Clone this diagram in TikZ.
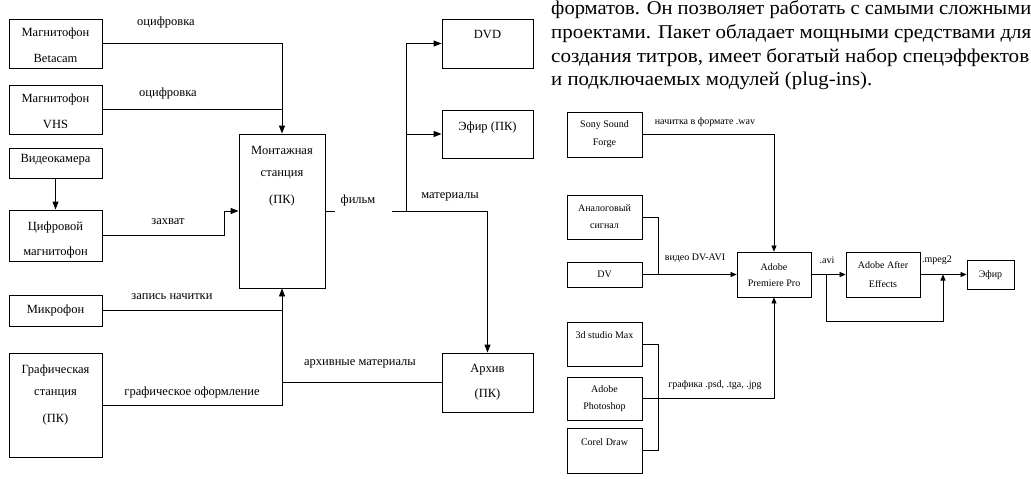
\documentclass[tikz,border=0pt]{standalone}
\usepackage{fontspec}
\setmainfont{Liberation Serif}
\usetikzlibrary{arrows.meta}
\begin{document}
\begin{tikzpicture}[x=1pt,y=-1pt,
  box/.style={draw,line width=0.9pt,inner sep=0pt},
  rbox/.style={draw,line width=0.8pt,inner sep=0pt,minimum width=75pt},
  lt/.style={font=\fontsize{12.5}{14}\selectfont,inner sep=0pt},
  rt/.style={font=\fontsize{10}{12}\selectfont,inner sep=0pt},
  con/.style={line width=0.9pt},
  rcon/.style={line width=0.7pt},
  arr/.style={con,-{Triangle[length=8pt,width=6pt]}},
  rarr/.style={rcon,-{Triangle[length=6pt,width=5pt]}},
  para/.style={font=\fontsize{19.5}{24}\selectfont,inner sep=0pt,anchor=base west},
]
\useasboundingbox[fill=white] (0,0) rectangle (1031,479);

% ---------------- left diagram ----------------
\node[box,minimum width=93pt,minimum height=49pt] (bet) at (55.5,43.5) {};
\node[lt] (betA) at (55.5,33) {Магнитофон};
\node[lt] (betB) at (55.5,58) {Betacam};

\node[box,minimum width=93pt,minimum height=49pt] (vhs) at (55.5,109.5) {};
\node[lt] (vhsA) at (55.5,99) {Магнитофон};
\node[lt] (vhsB) at (55.5,124) {VHS};

\node[box,minimum width=93pt,minimum height=30pt] (cam) at (55.5,163) {};
\node[lt] (camA) at (55.5,160) {Видеокамера};

\node[box,minimum width=93pt,minimum height=51pt] (dig) at (55.5,235.5) {};
\node[lt] (digA) at (55.5,227) {Цифровой};
\node[lt] (digB) at (55.5,252) {магнитофон};

\node[box,minimum width=93pt,minimum height=31pt] (mic) at (55.5,310.5) {};
\node[lt] (micA) at (55.5,310) {Микрофон};

\node[box,minimum width=93pt,minimum height=104pt] (gr) at (55.5,405) {};
\node[lt] (grA) at (55.5,370) {Графическая};
\node[lt] (grB) at (55.5,394) {станция};
\node[lt] (grC) at (55.5,419) {(ПК)};

\node[box,minimum width=86pt,minimum height=154pt] (mont) at (282,211) {};
\node[lt] (montA) at (282,150) {Монтажная};
\node[lt] (montB) at (282,175) {станция};
\node[lt] (montC) at (282,200) {(ПК)};

\node[box,minimum width=91pt,minimum height=49pt] (dvd) at (487.5,43.5) {};
\node[lt] (dvdA) at (487.5,35) {DVD};

\node[box,minimum width=91pt,minimum height=48pt] (air) at (487.5,134) {};
\node[lt] (airA) at (487.5,127) {Эфир (ПК)};

\node[box,minimum width=91pt,minimum height=59pt] (arch) at (487.5,382.5) {};
\node[lt] (archA) at (487.5,370) {Архив};
\node[lt] (archB) at (487.5,394) {(ПК)};

\draw[arr] (bet.east) -| (mont.north);
\draw[con] (vhs.east) -- (vhs.east -| mont.north);
\draw[arr] (cam.south) -- (dig.north);
\coordinate (digK) at (224,235.5);
\draw[arr] (dig.east) -- (digK) |- (mont.west);
\draw[arr] (mic.east) -| (mont.south);
\draw[con] (gr.east) -| (mic.east -| mont.south);
\draw[con] (arch.west) -- (arch.west -| mont.south);

\coordinate (fA) at (335,211);
\coordinate (fB) at (392,211);
\coordinate (fS) at (406,211);
\draw[con] (mont.east) -- (fA);
\draw[arr] (fB) -| (arch.north);
\draw[arr] (fS) |- (dvd.west);
\draw[arr] (fS |- air.west) -- (air.west);

\node[lt] (l1) at (166,22) {оцифровка};
\node[lt] (l2) at (168,93) {оцифровка};
\node[lt] (l3) at (168,222) {захват};
\node[lt] (l4) at (172,297) {запись начитки};
\node[lt] (l5) at (192,392) {графическое оформление};
\node[lt] (l6) at (360,364) {архивные материалы};
\node[lt] (l7) at (358,200) {фильм};
\node[lt] (l8) at (450,197) {материалы};

% ---------------- paragraph ----------------
\node[para] (p1) at (551,15) {\resizebox{480pt}{\height}{форматов. Он позволяет работать с самыми сложными}};
\node[para] (p2) at (551,38.5) {\resizebox{480pt}{\height}{проектами. Пакет обладает мощными средствами для}};
\node[para] (p3) at (551,62) {\resizebox{478pt}{\height}{создания титров, имеет богатый набор спецэффектов}};
\node[para] (p4) at (551,85.5) {\resizebox{321pt}{\height}{и подключаемых модулей (plug-ins).}};

% ---------------- right diagram ----------------
\node[rbox,minimum height=45pt] (sony) at (604.5,134.5) {};
\node[rt] (sonyA) at (604.5,125) {Sony Sound};
\node[rt] (sonyB) at (604.5,143) {Forge};

\node[rbox,minimum height=44pt] (ana) at (604.5,217) {};
\node[rt] (anaA) at (604.5,208) {Аналоговый};
\node[rt] (anaB) at (604.5,226) {сигнал};

\node[rbox,minimum height=25pt] (dv) at (604.5,274.5) {};
\node[rt] (dvA) at (604.5,274) {DV};

\node[rbox,minimum height=44pt] (max) at (604.5,344) {};
\node[rt] (maxA) at (604.5,335) {3d studio Max};

\node[rbox,minimum height=43pt] (ps) at (604.5,398.5) {};
\node[rt] (psA) at (604.5,389) {Adobe};
\node[rt] (psB) at (604.5,407) {Photoshop};

\node[rbox,minimum height=45pt] (corel) at (604.5,450.5) {};
\node[rt] (corelA) at (604.5,442) {Corel Draw};

\node[rbox,minimum width=74pt,minimum height=45pt] (prem) at (774,274.5) {};
\node[rt] (premA) at (774,267) {Adobe};
\node[rt] (premB) at (774,283) {Premiere Pro};

\node[rbox,minimum width=74pt,minimum height=45pt] (ae) at (883,274.5) {};
\node[rt] (aeA) at (883,265) {Adobe After};
\node[rt] (aeB) at (883,284) {Effects};

\node[rbox,minimum width=47pt,minimum height=29pt] (efir) at (990.5,275) {};
\node[rt] (efirA) at (990.5,275) {Эфир};

\draw[rarr] (sony.east) -| (prem.north);
\coordinate (anK) at (658,217);
\draw[rcon] (ana.east) -- (anK) -- (anK |- dv.east);
\draw[rarr] (dv.east) -- (prem.west);
\draw[rarr] (prem.east) -- (ae.west);
\coordinate (avK) at (826,274.5);
\coordinate (avL) at (826,321);
\coordinate (avM) at (943,321);
\draw[rarr] (avK) -- (avL) -- (avM) -- (avM |- ae.east);
\draw[rarr] (ae.east) -- (ae.east -| efir.west);
\coordinate (grK) at (658,344);
\draw[rcon] (max.east) -- (grK) -- (grK |- corel.east) -- (corel.east);
\draw[rarr] (ps.east) -| (prem.south);

\node[rt] (r1) at (705,122) {начитка в формате .wav};
\node[rt] (r2) at (695,258) {видео DV-AVI};
\node[rt] (r3) at (827,260) {.avi};
\node[rt] (r4) at (937,260) {.mpeg2};
\node[rt] (r5) at (715,385) {графика .psd, .tga, .jpg};
\end{tikzpicture}
\end{document}
